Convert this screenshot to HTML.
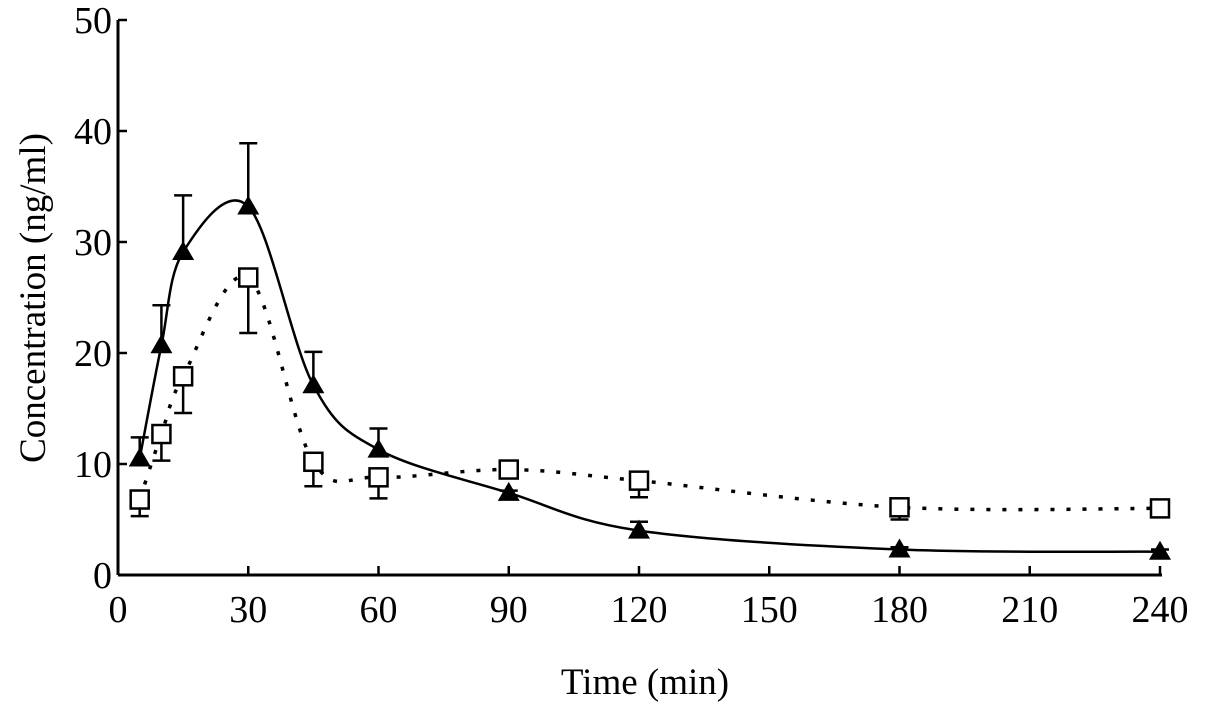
<!DOCTYPE html>
<html><head><meta charset="utf-8"><style>
html,body{margin:0;padding:0;background:#fff;}
svg text{font-family:"Liberation Serif",serif;fill:#000;}
</style></head><body>
<svg id="chart" width="1205" height="712" viewBox="0 0 1205 712" xmlns="http://www.w3.org/2000/svg">
<g id="axes"></g><g id="series"></g>
<text x="645" y="694" font-size="37" text-anchor="middle">Time (min)</text>
<text transform="translate(45,298) rotate(-90)" font-size="37" text-anchor="middle">Concentration (ng/ml)</text>
</svg>
<script>
const times = [5,10,15,30,45,60,90,120,180,240];
const triMean = [10.5,20.7,29.1,33.2,17.1,11.3,7.4,4.0,2.3,2.1];
const triErr = [12.4,24.3,34.2,38.9,20.1,13.2,7.6,4.8,2.5,2.3];
const sqMean = [6.8,12.7,17.9,26.8,10.2,8.8,9.5,8.5,6.1,6.0];
const sqErr = [5.3,10.3,14.6,21.8,8.0,6.9,9.3,7.0,5.0,5.9];
const xTicks = [0,30,60,90,120,150,180,210,240];
const yTicks = [0,10,20,30,40,50];

const NS="http://www.w3.org/2000/svg";
const X0=118,X1=1160,Y0=575,Y1=20;
const xs=t=>X0+(t/240)*(X1-X0);
const ys=v=>Y0-(v/50)*(Y0-Y1);
function mk(tag,attrs,parent){const e=document.createElementNS(NS,tag);for(const k in attrs)e.setAttribute(k,attrs[k]);parent.appendChild(e);return e;}
const axes=document.getElementById('axes'),ser=document.getElementById('series');

let a=mk('line',{x1:X0,y1:Y1,x2:X0,y2:Y0,stroke:'#000','stroke-width':3},axes);


a=mk('line',{x1:X0,y1:Y0,x2:X1+2,y2:Y0,stroke:'#000','stroke-width':3},axes);


yTicks.forEach(v=>{
  const y=ys(v);
  let t=mk('line',{x1:X0,y1:y,x2:X0+9,y2:y,stroke:'#000','stroke-width':2.5},axes);
  
  
  let l=mk('text',{x:X0-6,y:y+13,'font-size':38,'text-anchor':'end'},axes);
  l.textContent=v;
  
  
});
xTicks.forEach(v=>{
  const x=xs(v);
  let t=mk('line',{x1:x,y1:Y0,x2:x,y2:Y0-9,stroke:'#000','stroke-width':2.5},axes);
  
  
  let l=mk('text',{x:x,y:Y0+47,'font-size':38,'text-anchor':'middle'},axes);
  l.textContent=v;
  
  
});
function spline(vals){
  const p=times.map((t,i)=>[xs(t),ys(vals[i])]);
  let d='M'+p[0][0]+','+p[0][1];
  for(let i=0;i<p.length-1;i++){
    const p0=p[i-1]||p[i],p1=p[i],p2=p[i+1],p3=p[i+2]||p2;
    const c1=[p1[0]+(p2[0]-p0[0])/6,p1[1]+(p2[1]-p0[1])/6];
    const c2=[p2[0]-(p3[0]-p1[0])/6,p2[1]-(p3[1]-p1[1])/6];
    d+=` C${c1[0]},${c1[1]} ${c2[0]},${c2[1]} ${p2[0]},${p2[1]}`;
  }
  return d;
}
let c=mk('path',{d:spline(sqMean),fill:'none',stroke:'#000','stroke-width':3.5,'stroke-dasharray':'4 12'},ser);


c=mk('path',{d:spline(triMean),fill:'none',stroke:'#000','stroke-width':2.5},ser);


times.forEach((t,i)=>{
  const x=xs(t);
  let e=mk('path',{d:`M${x},${ys(sqMean[i])} V${ys(sqErr[i])} M${x-9},${ys(sqErr[i])} H${x+9}`,stroke:'#000','stroke-width':2.5,fill:'none'},ser);
  
  
  let s=mk('rect',{x:x-9,y:ys(sqMean[i])-9,width:18,height:18,fill:'#fff',stroke:'#000','stroke-width':2.5},ser);
  
  
  e=mk('path',{d:`M${x},${ys(triMean[i])} V${ys(triErr[i])} M${x-9},${ys(triErr[i])} H${x+9}`,stroke:'#000','stroke-width':2.5,fill:'none'},ser);
  
  
  const y=ys(triMean[i]);
  let tr=mk('polygon',{points:`${x},${y-11} ${x-11},${y+8} ${x+11},${y+8}`,fill:'#000'},ser);
  
  
});
</script>
</body></html>
